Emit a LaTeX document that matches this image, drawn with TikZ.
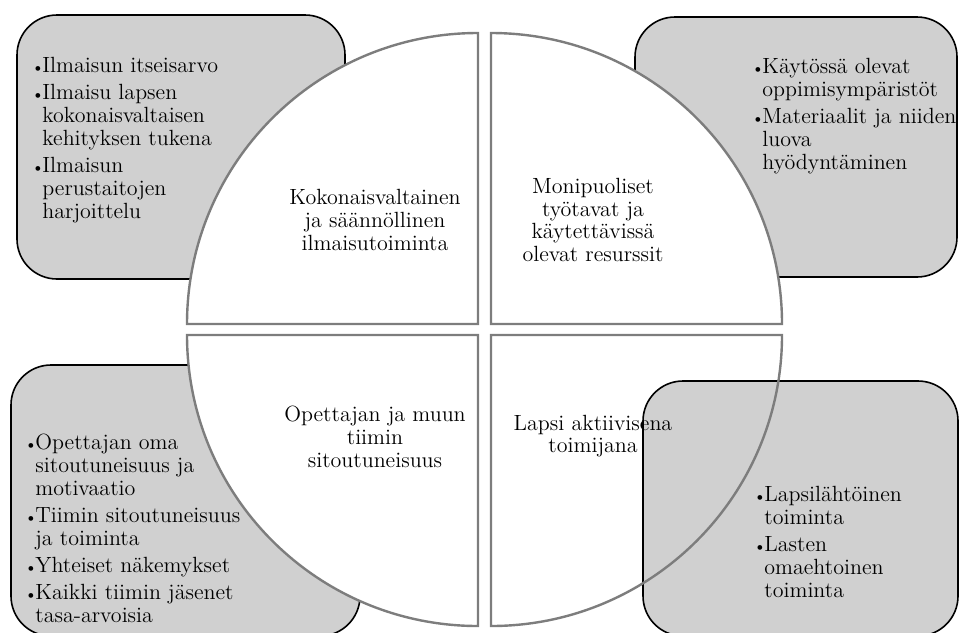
\documentclass[tikz,border=0pt]{standalone}
\usetikzlibrary{positioning}
\definecolor{boxgray}{RGB}{208, 208, 208}
\definecolor{quadline}{RGB}{125, 125, 125}
\tikzstyle{listbox} = [draw=black, fill=boxgray, rounded corners=20pt, line width=0.8pt]
\tikzstyle{quarter} = [draw=quadline, line width=1.2pt]
\tikzstyle{quadtext} = [align=center, inner sep=0pt, font=\fontsize{11}{11.4}\selectfont]
\tikzstyle{listtext} = [align=left, anchor=north west, inner sep=0pt, font=\fontsize{11}{11.5}\selectfont]
\newcommand{\bul}{\makebox[5.5pt][l]{\raisebox{0.3pt}{\footnotesize\textbullet}}}
\newcommand{\ind}{\hspace*{5.5pt}}

\begin{document}
\begin{tikzpicture}[x=0.5pt, y=-0.5pt]
    \useasboundingbox (0, 0) rectangle (961, 632);
    \clip (0, 0) rectangle (961, 632);

    % Boxes behind the circle
    \draw[listbox] (17, 15) rectangle (345, 279);
    \draw[listbox] (635, 17) rectangle (957, 277);
    \draw[listbox] (11, 365) rectangle (360, 636);

    % Quarter fills
    \fill[white] (478, 324) -- (187, 324) arc[start angle=180, end angle=270, radius=291] -- cycle;
    \fill[white] (491, 324) -- (491, 33) arc[start angle=270, end angle=360, radius=291] -- cycle;
    \fill[white] (478, 335) -- (478, 626) arc[start angle=90, end angle=180, radius=291] -- cycle;
    \fill[white] (491, 335) -- (782, 335) arc[start angle=0, end angle=90, radius=291] -- cycle;

    % Box in front of the lower right quarter
    \draw[listbox] (643, 381) rectangle (958, 636);

    % Quarter outlines
    \draw[quarter] (478, 324) -- (187, 324) arc[start angle=180, end angle=270, radius=291] -- cycle;
    \draw[quarter] (491, 324) -- (491, 33) arc[start angle=270, end angle=360, radius=291] -- cycle;
    \draw[quarter] (478, 335) -- (478, 626) arc[start angle=90, end angle=180, radius=291] -- cycle;
    \draw[quarter] (491, 335) -- (782, 335) arc[start angle=0, end angle=90, radius=291] -- cycle;

    % Quarter labels
    \node[quadtext] (ilmaisu) at (375, 220) {Kokonaisvaltainen\\ja säännöllinen\\ilmaisutoiminta};
    \node[quadtext] (tyotavat) at (593, 220) {Monipuoliset\\työtavat ja\\käytettävissä\\olevat resurssit};
    \node[quadtext] (opettaja) at (375, 437) {Opettajan ja muun\\tiimin\\sitoutuneisuus};
    \node[quadtext] (lapsi) at (593, 436) {Lapsi aktiivisena\\toimijana};

    % Lists
    \node[listtext] (ilmaisulist) at (31, 57) {%
        \bul Ilmaisun itseisarvo\\[2pt]
        \bul Ilmaisu lapsen\\ \ind kokonaisvaltaisen\\ \ind kehityksen tukena\\[2pt]
        \bul Ilmaisun\\ \ind perustaitojen\\ \ind harjoittelu};
    \node[listtext] (tyotavatlist) at (751, 58) {%
        \bul Käytössä olevat\\ \ind oppimisympäristöt\\[2pt]
        \bul Materiaalit ja niiden\\ \ind luova\\ \ind hyödyntäminen};
    \node[listtext] (opettajalist) at (24, 434) {%
        \bul Opettajan oma\\ \ind sitoutuneisuus ja\\ \ind motivaatio\\[2pt]
        \bul Tiimin sitoutuneisuus\\ \ind ja toiminta\\[2pt]
        \bul Yhteiset näkemykset\\[2pt]
        \bul Kaikki tiimin jäsenet\\ \ind tasa-arvoisia};
    \node[listtext] (lapsilist) at (753, 486) {%
        \bul Lapsilähtöinen\\ \ind toiminta\\[2pt]
        \bul Lasten\\ \ind omaehtoinen\\ \ind toiminta};
\end{tikzpicture}
\end{document}
